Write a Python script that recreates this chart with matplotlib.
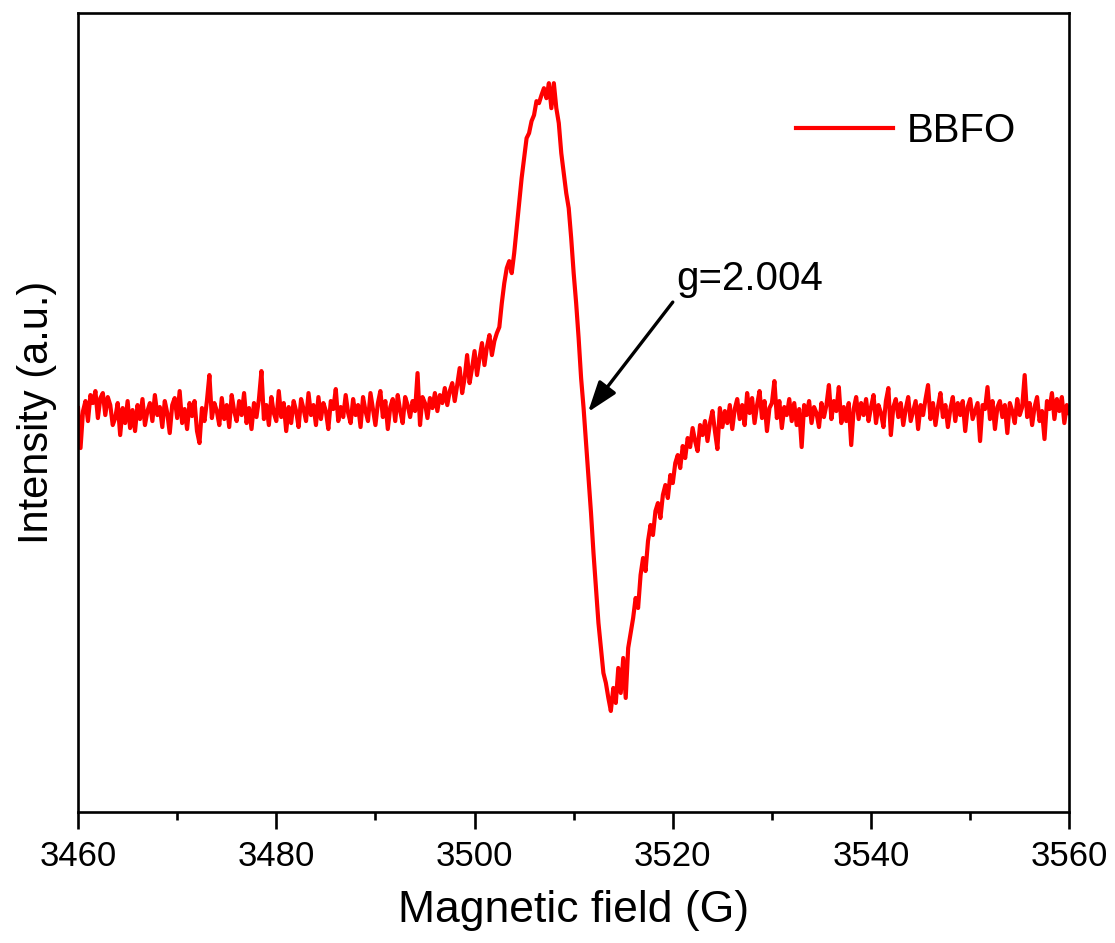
"""
EPR spectrum of BBFO (first-derivative signal, g = 2.004).
"""

import numpy as np
import matplotlib
matplotlib.use("Agg")
import matplotlib.pyplot as plt

plt.rcParams["font.family"] = ["Liberation Sans", "DejaVu Sans"]

# field axis: 3460 G to 3560 G sampled every 0.25 G
field_start = 3460.0
field_stop = 3560.0
n_points = 401

# intensity (a.u.), split by region
base_left = [
    0.05, -0.35, 0.02, 0.12, -0.08, 0.18, 0.10, 0.22, -0.05, 0.15,
    0.20, -0.02, 0.16, 0.08, -0.12, -0.05, 0.10, -0.22, 0.05, -0.10,
    0.12, -0.15, 0.03, -0.18, 0.08, -0.06, 0.14, -0.12, 0.02, 0.10,
    -0.08, 0.18, -0.02, 0.06, -0.14, 0.12, 0.00, -0.20, 0.08, 0.15,
    -0.05, 0.22, -0.10, 0.04, -0.16, 0.10, -0.03, 0.12, -0.18, -0.30,
    0.05, -0.08, 0.12, 0.38, -0.05, 0.10, 0.02, -0.12, 0.15, -0.06,
    0.08, -0.14, 0.18, 0.02, -0.08, 0.12, -0.02, 0.20, -0.10, 0.05,
    -0.16, 0.10, -0.04, 0.14, 0.42, -0.06, 0.08, -0.12, 0.16, 0.00,
    -0.08, 0.22, -0.04, 0.10, -0.18, 0.06, -0.10, 0.12, 0.02, -0.14,
    0.14, 0.04, -0.08, 0.20, -0.02, 0.08, -0.12, 0.16, -0.06, 0.10,
    0.02, -0.16, 0.12, 0.04, 0.24, -0.08, 0.06, -0.04, 0.18, 0.00,
    -0.10, 0.14, -0.02, 0.08, -0.14, 0.16, 0.02, -0.08, 0.20, 0.04,
    -0.12, 0.10, 0.22, -0.04, 0.12, -0.16, 0.06, 0.14, -0.08, 0.18,
    0.02, -0.10, 0.16, 0.08, -0.04, 0.12, 0.02, 0.40, -0.12, 0.16,
]
rise = [
    0.10, -0.05, 0.15, 0.05, 0.20, 0.02, 0.18, 0.10, 0.25, 0.08,
    0.22, 0.30, 0.12, 0.28, 0.45, 0.20, 0.35, 0.58, 0.30, 0.45,
    0.62, 0.38, 0.55, 0.70, 0.48, 0.66, 0.78, 0.58, 0.72, 0.80,
    0.86, 1.10, 1.30, 1.45, 1.52, 1.40, 1.60, 1.85, 2.10, 2.35,
    2.55, 2.75, 2.80, 2.92, 2.98, 3.12, 3.10, 3.18, 3.25, 3.15,
    3.30, 3.05,
]
fall = [
    3.30, 3.05, 2.90, 2.60, 2.40, 2.20, 2.05, 1.75, 1.40, 1.10,
    0.75, 0.35, 0.05, -0.30, -0.65, -1.00, -1.40, -1.75, -2.10, -2.35,
    -2.60, -2.70, -2.85, -2.98,
]
recover = [
    -2.75, -2.90, -2.55, -2.80, -2.45, -2.85, -2.35, -2.20, -2.05, -1.85,
    -1.95, -1.62, -1.45, -1.58, -1.28, -1.12, -1.22, -0.98, -0.90, -1.05,
    -0.82, -0.72, -0.85, -0.62, -0.70, -0.50, -0.42, -0.55, -0.33, -0.45,
    -0.25, -0.34, -0.15, -0.28, -0.38, -0.12, -0.22, -0.08, -0.28, -0.10,
    0.02, -0.18, -0.36, 0.05, -0.14, 0.02, -0.10, 0.08, -0.16, 0.04,
    0.14, -0.06, 0.08, -0.12, 0.20, 0.00,
]
base_right = [
    0.15, -0.10, 0.08, 0.22, -0.05, 0.12, -0.18, 0.05, 0.10, 0.32,
    -0.05, 0.12, -0.15, 0.06, -0.02, 0.14, -0.08, 0.10, -0.12, 0.04,
    -0.34, 0.08, -0.02, 0.12, -0.10, 0.06, 0.00, -0.14, 0.10, -0.04,
    0.08, 0.28, -0.06, 0.12, 0.02, 0.26, -0.10, 0.06, -0.08, 0.10,
    -0.32, 0.04, 0.16, -0.06, 0.10, -0.02, 0.14, -0.08, 0.06, 0.18,
    -0.10, 0.08, 0.00, -0.14, 0.12, 0.25, -0.22, 0.06, 0.14, -0.04,
    0.10, -0.12, 0.04, 0.16, -0.08, 0.02, 0.12, -0.16, 0.08, -0.02,
    0.14, 0.28, -0.06, 0.10, -0.12, 0.06, 0.20, -0.04, 0.08, -0.14,
    0.04, 0.16, -0.08, 0.10, -0.02, 0.12, -0.18, 0.06, 0.14, -0.06,
    0.02, 0.10, -0.28, 0.08, 0.04, 0.26, -0.06, 0.12, -0.16, 0.06,
    0.12, -0.04, 0.08, -0.20, 0.10, 0.02, -0.10, 0.14, -0.02, 0.06,
    0.38, -0.04, 0.10, -0.12, 0.06, 0.16, -0.08, 0.02, -0.26, 0.12,
    0.04, 0.20, -0.06, 0.14, 0.02, 0.16, -0.10, 0.08, 0.00,
]

x_ticks = [3460, 3480, 3500, 3520, 3540, 3560]
series_label = "BBFO"
g_label = "g=2.004"
g_tip = (3511.45, 0.01)
g_tail = (3520.0, 1.11)
g_text = (3520.3, 1.23)

field = np.linspace(field_start, field_stop, n_points)
intensity = np.array(base_left + rise + fall + recover + base_right)

fig = plt.figure(figsize=(11.15, 9.43), dpi=100)
ax = fig.add_axes([0.070, 0.139, 0.889, 0.847])

ax.plot(field, intensity, color="#ff0000", lw=3.0, label=series_label)

ax.set_xlim(3460, 3560)
ax.set_ylim(-3.99, 4.00)
ax.set_xticks(x_ticks)
ax.set_xticks(np.arange(3470, 3560, 20), minor=True)
ax.set_yticks([])

for side in ["left", "right", "top", "bottom"]:
    ax.spines[side].set_linewidth(1.9)

ax.tick_params(axis="x", which="major", direction="out", length=12, width=1.9,
               pad=8, labelsize=25)
ax.tick_params(axis="x", which="minor", direction="out", length=6, width=1.9)

ax.set_xlabel("Magnetic field (G)", fontsize=32)
ax.xaxis.set_label_coords(0.5, -0.098)
ax.set_ylabel("Intensity (a.u.)", fontsize=30)
ax.yaxis.set_label_coords(-0.021, 0.5)

ax.annotate("", xy=g_tip, xytext=g_tail,
            arrowprops=dict(arrowstyle="-|>,head_length=0.75,head_width=0.26",
                            mutation_scale=25, color="black", lw=2.4,
                            shrinkA=0, shrinkB=0))
ax.text(g_text[0], g_text[1], g_label, fontsize=29, ha="left", va="baseline")

ax.legend(loc="center left", bbox_to_anchor=(0.7245, 0.852), frameon=False,
          fontsize=29, handlelength=2.4, handletextpad=0.35,
          borderpad=0, borderaxespad=0)

fig.savefig("out.png", dpi=100)
